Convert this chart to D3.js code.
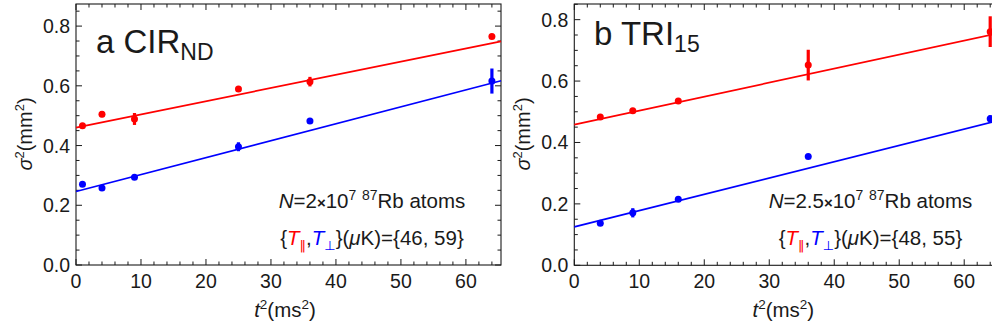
<!DOCTYPE html>
<html>
<head>
<meta charset="utf-8">
<script src="https://cdn.jsdelivr.net/npm/d3@7"></script>
<style>
  body { margin: 0; background: #fff; }
  svg { display: block; font-family: "Liberation Sans", Arial, sans-serif; }
</style>
</head>
<body>
<svg id="chart" width="992" height="335"></svg>
<script>
// panel a : CIR_ND
var tA = [1, 4, 9, 25, 36, 64];
var parA = [0.466, 0.505, 0.489, 0.589, 0.614, 0.765];
var parErrA = [0.006, 0.01, 0.02, 0.005, 0.016, 0.005];
var perpA = [0.270, 0.258, 0.294, 0.396, 0.482, 0.616];
var perpErrA = [0.005, 0.005, 0.005, 0.015, 0.006, 0.042];
var fitParA = [0.460, 0.00442];   // intercept, slope
var fitPerpA = [0.246, 0.00567];

// panel b : TRI_15
var tB = [4, 9, 16, 36, 64];
var parB = [0.483, 0.503, 0.535, 0.652, 0.761];
var parErrB = [0.005, 0.006, 0.006, 0.05, 0.05];
var perpB = [0.137, 0.171, 0.215, 0.354, 0.477];
var perpErrB = [0.005, 0.015, 0.008, 0.005, 0.012];
var fitParB = [0.458, 0.00456];
var fitPerpB = [0.125, 0.00531];

var xTicks = [0, 10, 20, 30, 40, 50, 60];
var yTicks = [0, 0.2, 0.4, 0.6, 0.8];
var tempsA = ["46", "59"];
var tempsB = ["48", "55"];

var RED = "#ff0000", BLUE = "#0000ff", INK = "#1a1a1a";
var svg = d3.select("#chart");

// writes a line of text made of pieces, some raised or lowered
function richText(g, x, y, size, anchor, parts) {
  var t = g.append("text")
      .attr("x", x).attr("y", y)
      .attr("font-size", size)
      .attr("text-anchor", anchor)
      .attr("fill", INK);
  var shift = 0;
  parts.forEach(function(p) {
    var target = p.sup ? -p.sup : (p.sub ? p.sub : 0);
    var s = t.append("tspan").attr("dy", target - shift).text(p.t);
    shift = target;
    if (p.size) s.attr("font-size", p.size);
    if (p.it) s.attr("font-style", "italic");
    if (p.fill) s.attr("fill", p.fill);
    if (p.font) s.attr("font-family", p.font);
    if (p.bold) s.attr("font-weight", "bold");
  });
  return t;
}

function panel(o) {
  var x = d3.scaleLinear().domain([0, 65.4]).range([o.left, o.left + 425]);
  var y = d3.scaleLinear().domain([0, o.ymax]).range([o.bottom, 4]);
  var g = svg.append("g");

  // frame
  g.append("rect")
    .attr("x", x(0)).attr("y", y(o.ymax))
    .attr("width", x(65.4) - x(0)).attr("height", y(0) - y(o.ymax))
    .attr("fill", "none").attr("stroke", INK).attr("stroke-width", 1.1);

  // ticks on all four sides, inward
  var xMinor = d3.range(0, 66, 2), yMinor = d3.range(0, o.ymax, 0.05);
  xMinor.forEach(function(v) {
    var len = v % 10 === 0 ? 6 : 3.5;
    g.append("line").attr("x1", x(v)).attr("x2", x(v))
      .attr("y1", y(0)).attr("y2", y(0) - len).attr("stroke", INK);
    g.append("line").attr("x1", x(v)).attr("x2", x(v))
      .attr("y1", y(o.ymax)).attr("y2", y(o.ymax) + len).attr("stroke", INK);
  });
  yMinor.forEach(function(v, i) {
    var len = i % 4 === 0 ? 6 : 3.5;
    g.append("line").attr("y1", y(v)).attr("y2", y(v))
      .attr("x1", x(0)).attr("x2", x(0) + len).attr("stroke", INK);
    g.append("line").attr("y1", y(v)).attr("y2", y(v))
      .attr("x1", x(65.4)).attr("x2", x(65.4) - len).attr("stroke", INK);
  });

  g.selectAll(".xl").data(xTicks).enter().append("text")
    .attr("x", function(d) { return x(d); }).attr("y", y(0) + 23)
    .attr("text-anchor", "middle").attr("font-size", 19.5).attr("fill", INK)
    .text(function(d) { return d; });
  g.selectAll(".yl").data(yTicks).enter().append("text")
    .attr("x", x(0) - 6).attr("y", function(d) { return y(d) + 7; })
    .attr("text-anchor", "end").attr("font-size", 19.5).attr("fill", INK)
    .text(d3.format(".1f"));

  // axis titles
  richText(g, x(0) + 209, 317, 20.5, "middle", [
    {t: "t", it: true}, {t: "2", sup: 8, size: 13.5}, {t: "(ms"}, {t: "2", sup: 8, size: 13.5}, {t: ")"}
  ]);
  var yt = g.append("g").attr("transform", "translate(" + (x(0) - 44) + ",134) rotate(-90)");
  richText(yt, 0, 0, 20, "middle", [
    {t: "σ", it: true}, {t: "2", sup: 8, size: 13}, {t: "(mm"}, {t: "2", sup: 8, size: 13}, {t: ")"}
  ]);

  // panel label
  richText(g, o.labelX, o.labelY, 33, "start", [
    {t: o.label}, {t: o.labelSub, sub: 7, size: 23}
  ]);

  // fit lines
  [[o.fitPar, RED], [o.fitPerp, BLUE]].forEach(function(f) {
    g.append("line")
      .attr("x1", x(0)).attr("y1", y(f[0][0]))
      .attr("x2", x(65.4)).attr("y2", y(f[0][0] + f[0][1] * 65.4))
      .attr("stroke", f[1]).attr("stroke-width", 1.7);
  });

  // points with error bars
  [[o.par, o.parErr, RED], [o.perp, o.perpErr, BLUE]].forEach(function(s) {
    var pts = o.t.map(function(t, i) { return {t: t, v: s[0][i], e: s[1][i]}; });
    g.selectAll(null).data(pts).enter().append("line")
      .attr("x1", function(d) { return x(d.t); }).attr("x2", function(d) { return x(d.t); })
      .attr("y1", function(d) { return y(d.v - d.e); }).attr("y2", function(d) { return y(d.v + d.e); })
      .attr("stroke", s[2]).attr("stroke-width", 3.2);
    g.selectAll(null).data(pts).enter().append("circle")
      .attr("cx", function(d) { return x(d.t); }).attr("cy", function(d) { return y(d.v); })
      .attr("r", 3.5).attr("fill", s[2]);
  });

  // annotations
  richText(g, o.noteX, 208, 20.5, "middle", [
    {t: "N", it: true}, {t: "=" + o.atoms}, {t: "\u00d7", size: 15, bold: true}, {t: "10"},
    {t: "7", sup: 8, size: 14}, {t: " "}, {t: "87", sup: 8, size: 14}, {t: "Rb atoms"}
  ]);
  richText(g, o.noteX, 245, 20.5, "middle", [
    {t: "{"}, {t: "T", it: true, fill: RED},
    {t: "\u2016", sub: 5, size: 13, fill: RED, font: "DejaVu Sans"},
    {t: ","}, {t: "T", it: true, fill: BLUE},
    {t: "\u22a5", sub: 5, size: 13, fill: BLUE, font: "DejaVu Sans"},
    {t: "}("}, {t: "\u03bc", it: true}, {t: "K)={" + o.temps[0] + ", " + o.temps[1] + "}"}
  ]);
}

panel({
  left: 76, bottom: 265, ymax: 0.874,
  t: tA, par: parA, parErr: parErrA, perp: perpA, perpErr: perpErrA,
  fitPar: fitParA, fitPerp: fitPerpA,
  label: "a CIR", labelSub: "ND", labelX: 96, labelY: 53,
  noteX: 372, atoms: "2", temps: tempsA
});
panel({
  left: 574.3, bottom: 265.3, ymax: 0.851,
  t: tB, par: parB, parErr: parErrB, perp: perpB, perpErr: perpErrB,
  fitPar: fitParB, fitPerp: fitPerpB,
  label: "b TRI", labelSub: "15", labelX: 594, labelY: 45,
  noteX: 870.5, atoms: "2.5", temps: tempsB
});
</script>
</body>
</html>
